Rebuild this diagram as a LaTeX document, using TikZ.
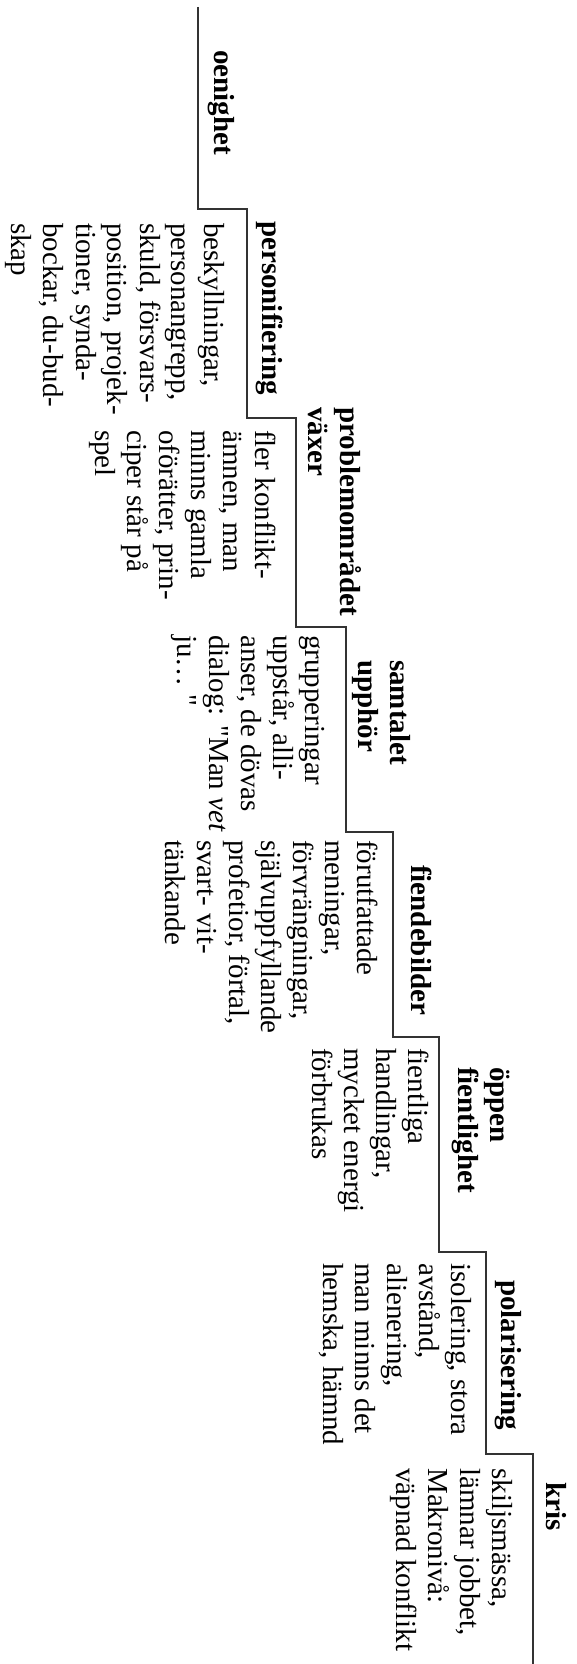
\documentclass[tikz,border=0pt]{standalone}
\usepackage{fontspec}
\setmainfont{Liberation Serif}
\newfontfamily\rawquote{Liberation Serif}

\newcommand{\stepfont}{\fontsize{29}{32}\selectfont}
\newcommand{\dq}{{\rawquote"}}

\begin{document}

\begin{tikzpicture}[x=1pt, y=-1pt,
    stairline/.style={line width=1.2pt, draw=black!80},
    head/.style={rotate=-90, anchor=base west, inner sep=0pt, align=left, font=\stepfont\bfseries},
    desc/.style={rotate=-90, anchor=base west, inner sep=0pt, align=left, font=\stepfont},
    ]
  \useasboundingbox (0,0) rectangle (577,1664);

  \draw[stairline] (198,7) |- (247,209) |- (296,418) |- (346,627) |- (393,832)
      |- (439,1037) |- (486,1252) |- (533,1454) -- (533,1664);

  % base anchor = baseline of the last line
  \node[head] (oenighet) at (214,50) {oenighet};
  \node[head] (person) at (262,221) {personifiering};
  \node[head] (problem) at (308,407) {problemområdet\\växer};
  \node[head] (samtal) at (358,660) {samtalet\\upphör};
  \node[head] (fiende) at (411,865) {fiendebilder};
  \node[head] (oppen) at (458,1067) {öppen\\fientlighet};
  \node[head] (polar) at (501,1280) {polarisering};
  \node[head] (kris) at (546,1482) {kris};

  \node[desc] (personText) at (12,223) {beskyllningar,\\personangrepp,\\skuld, försvars-\\position, projek-\\tioner, synda-\\bockar, du-bud-\\skap};
  \node[desc] (problemText) at (95,430) {fler konflikt-\\ämnen, man\\minns gamla\\oförätter, prin-\\ciper står på\\spel};
  \node[desc] (samtalText) at (177,635) {grupperingar\\uppstår, alli-\\anser, de dövas\\dialog: \dq Man \textit{vet}\\ju\ldots\ \dq};
  \node[desc] (fiendeText) at (165,840) {förutfattade\\meningar,\\förvrängningar,\\självuppfyllande\\profetior, förtal,\\svart- vit-\\tänkande};
  \node[desc] (oppenText) at (312,1048) {fientliga\\handlingar,\\mycket energi\\förbrukas};
  \node[desc] (polarText) at (323,1263) {isolering, stora\\avstånd,\\alienering,\\man minns det\\hemska, hämnd};
  \node[desc] (krisText) at (396,1468) {skiljsmässa,\\lämnar jobbet,\\Makronivå:\\väpnad konflikt};
\end{tikzpicture}

\end{document}
